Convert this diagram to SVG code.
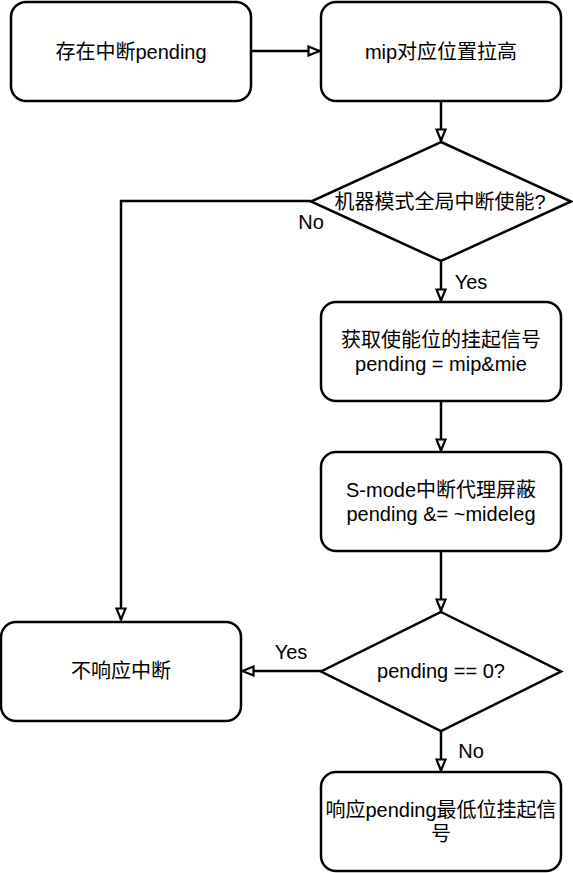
<svg xmlns="http://www.w3.org/2000/svg" width="573" height="873" viewBox="0 0 573 873">
<style>
.n{fill:#fff;stroke:#000;stroke-width:2.5}
.c{fill:none;stroke:#000;stroke-width:2.5}
text{font-family:"Liberation Sans","Noto Sans CJK SC",sans-serif;font-size:20px;fill:#000;text-anchor:middle}
</style>
<defs>
<marker id="a" viewBox="0 0 14 12" markerWidth="14" markerHeight="12" refX="13" refY="6" orient="auto" markerUnits="userSpaceOnUse">
<path d="M1.5,1.5 L12.5,6 L1.5,10.5 z" fill="#fff" stroke="#000" stroke-width="2.2"/>
</marker>
</defs>
<rect width="573" height="873" fill="#fff"/>
<g id="connectors">
<path class="c" d="M251,51 L320,51" marker-end="url(#a)"/>
<path class="c" d="M441,101 L441,141" marker-end="url(#a)"/>
<path class="c" d="M311,201 L121,201 L121,620" marker-end="url(#a)"/>
<path class="c" d="M441,261 L441,301" marker-end="url(#a)"/>
<path class="c" d="M441,401 L441,451" marker-end="url(#a)"/>
<path class="c" d="M441,551 L441,611" marker-end="url(#a)"/>
<path class="c" d="M321,671 L242,671" marker-end="url(#a)"/>
<path class="c" d="M441,731 L441,771" marker-end="url(#a)"/>
<text x="311" y="229">No</text>
<text x="471" y="289">Yes</text>
<text x="291" y="659">Yes</text>
<text x="471" y="758">No</text>
</g>
<g id="n1"><rect class="n" x="11" y="2" width="240" height="99" rx="15"/><text x="131" y="58.5">存在中断pending</text></g>
<g id="n2"><rect class="n" x="321" y="2" width="240" height="99" rx="15"/><text x="441" y="58.5">mip对应位置拉高</text></g>
<g id="n3"><path class="n" d="M441,142 L571,201.5 L441,261 L311,201.5 z"/><text x="440" y="208.5">机器模式全局中断使能?</text></g>
<g id="n4"><rect class="n" x="321" y="302" width="240" height="99" rx="15"/><text x="441" y="347">获取使能位的挂起信号</text><text x="441" y="370.5">pending = mip&amp;mie</text></g>
<g id="n5"><rect class="n" x="321" y="452" width="240" height="99" rx="15"/><text x="441" y="497">S-mode中断代理屏蔽</text><text x="441" y="520.5">pending &amp;= ~mideleg</text></g>
<g id="n6"><path class="n" d="M441,612 L561,671.5 L441,731 L321,671.5 z"/><text x="441" y="678">pending == 0?</text></g>
<g id="n7"><rect class="n" x="1" y="622" width="240" height="99" rx="15"/><text x="121" y="678">不响应中断</text></g>
<g id="n8"><rect class="n" x="321" y="772" width="240" height="99" rx="15"/><text x="441" y="817">响应pending最低位挂起信</text><text x="441" y="840.5">号</text></g>
</svg>
